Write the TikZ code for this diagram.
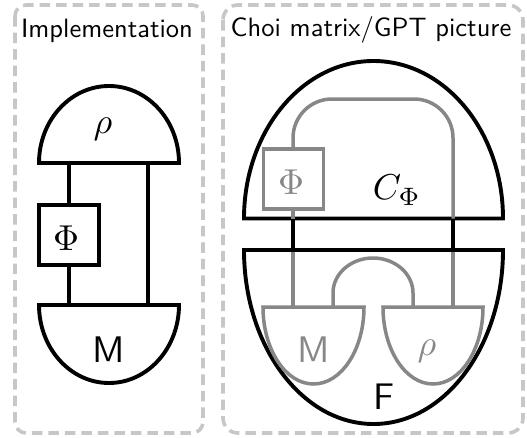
\documentclass[tikz,border=0pt]{standalone}
\usepackage{fontspec}
\begin{document}
\begin{tikzpicture}[x=1pt,y=-1pt,
  frame/.style={draw=black!22,line width=3.6pt,dash pattern=on 10.5pt off 6pt},
  blk/.style={draw=black,line width=3.9pt},
  gry/.style={draw=black!47,line width=3.5pt},
  lbl/.style={font=\sffamily,inner sep=0pt,scale=2.65},
  big/.style={font=\sffamily,inner sep=0pt,scale=3.7},
  math/.style={inner sep=0pt,scale=3.6},
  boxn/.style={minimum width=60pt,minimum height=60pt,inner sep=0pt,line join=miter}]
\useasboundingbox (0,0) rectangle (527,437);
% frames
\draw[frame,rounded corners=11pt] (15,5) rectangle (203,433);
\draw[frame,rounded corners=15pt] (223,5) rectangle (523,433);
\node[lbl] (t1) at (107,31) {Implementation};
\node[lbl] (t2) at (371,30) {Choi matrix/GPT picture};
% left diagram
\coordinate (lrA) at (69,163); \coordinate (lrB) at (148,163);
\coordinate (lmA) at (69,305); \coordinate (lmB) at (148,305);
\node[boxn,blk] (lphi) at (69,234.7) {};
\draw[blk] (lrA) -- (lphi); \draw[blk] (lphi) -- (lmA); \draw[blk] (lrB) -- (lmB);
\draw[blk,line join=miter] (39,163) arc[start angle=180,end angle=0,x radius=70,y radius=-77] -- cycle;
\draw[blk,line join=miter] (39,305) arc[start angle=180,end angle=360,x radius=70,y radius=-78] -- cycle;
\node[math] (lrho) at (103,129) {$\rho$};
\node[math] (lphit) at (66,238) {$\Phi$};
\node[big] (lM) at (109,350) {M};
% right diagram: black outer
\draw[blk,line join=miter] (244,218.5) arc[start angle=180,end angle=0,x radius=129.5,y radius=-157.5] -- cycle;
\draw[blk,line join=miter] (244,250) arc[start angle=180,end angle=360,x radius=129.5,y radius=-174] -- cycle;
% gray parts
\coordinate (ca) at (293,218.5); \coordinate (cb) at (453,218.5);
\coordinate (fa) at (293,250); \coordinate (fb) at (453,250);
\node[boxn,gry] (rphi) at (293.7,179) {};
\coordinate (rphitop) at (293,148);
\draw[gry] (rphitop) -- (293,138) arc[start angle=180,end angle=90,x radius=39,y radius=-39] -- (414,99) arc[start angle=90,end angle=0,x radius=39,y radius=-39] -- (cb);
\draw[gry] (293,209) -- (ca);
\draw[gry,line join=miter] (263,307) arc[start angle=180,end angle=360,x radius=50.5,y radius=-77] -- cycle;
\draw[gry,line join=miter] (383,307) arc[start angle=180,end angle=360,x radius=50,y radius=-77] -- cycle;
\draw[gry] (fa) -- (293,307);
\draw[gry] (fb) -- (453,307);
\draw[gry] (333,307) -- (333,293) arc[start angle=180,end angle=0,x radius=40,y radius=-35] -- (413,307);
\draw[blk] (ca) -- (fa); \draw[blk] (cb) -- (fb);
\draw[blk] (244,250) -- (503,250);
\node[math,text=black!47] (rphit) at (291,182) {$\Phi$};
\node[math] (cphi) at (397,190) {$C_\Phi$};
\node[big,text=black!47] (rM) at (314,350) {M};
\node[math,text=black!47] (rrho) at (427,351) {$\rho$};
\node[big] (F) at (384,397) {F};
\end{tikzpicture}
\end{document}
